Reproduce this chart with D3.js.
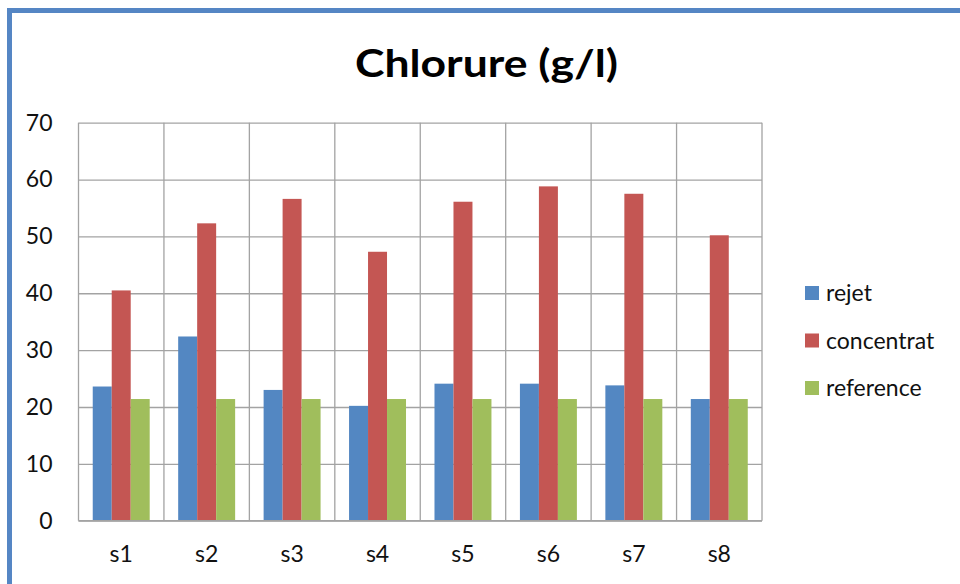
<!DOCTYPE html>
<html>
<head>
<meta charset="utf-8">
<script src="https://cdn.jsdelivr.net/npm/d3@7"></script>
<style>
  html, body { margin: 0; padding: 0; background: #fff; }
  svg { display: block; }
  text { font-family: Lato, "Open Sans", sans-serif; }
</style>
</head>
<body>
<svg id="chart" width="960" height="584"></svg>
<script>
// Chloride measurements (g/l) per sample
const categories = ["s1", "s2", "s3", "s4", "s5", "s6", "s7", "s8"];
const seriesNames = ["rejet", "concentrat", "reference"];
const rejet      = [23.6, 32.4, 23.0, 20.2, 24.1, 24.1, 23.8, 21.4];
const concentrat = [40.5, 52.3, 56.6, 47.3, 56.1, 58.8, 57.5, 50.2];
const reference  = [21.4, 21.4, 21.4, 21.4, 21.4, 21.4, 21.4, 21.4];
const yTicks = [0, 10, 20, 30, 40, 50, 60, 70];
const colors = ["#5387c2", "#c45653", "#a0be5c"];

const seriesValues = [rejet, concentrat, reference];
const rows = categories.map((c, i) => ({
  cat: c,
  values: seriesNames.map((s, k) => ({ key: s, value: seriesValues[k][i], color: colors[k] }))
}));

const svg = d3.select("#chart");

// outer frame
svg.append("rect")
  .attr("x", 9.5).attr("y", 10.5)
  .attr("width", 1000).attr("height", 1000)
  .attr("fill", "none")
  .attr("stroke", "#5586c4")
  .attr("stroke-width", 5);

const plot = { left: 78.5, right: 762, top: 122.7, bottom: 520.7 };

const x = d3.scaleBand().domain(categories).range([plot.left, plot.right]).paddingInner(0).paddingOuter(0);
const groupPad = x.bandwidth() / 6;
const xs = d3.scaleBand().domain(seriesNames)
  .range([groupPad, x.bandwidth() - groupPad]).padding(0);
const y = d3.scaleLinear().domain([0, 70]).range([plot.bottom, plot.top]);

const gridColor = "#a3a3a3";

// horizontal gridlines
svg.append("g")
  .attr("transform", `translate(${plot.left},0)`)
  .call(d3.axisLeft(y).tickValues(yTicks).tickSize(-(plot.right - plot.left)).tickFormat(""))
  .call(g => g.select(".domain").remove())
  .call(g => g.selectAll("line").attr("stroke", gridColor).attr("stroke-width", 1.3));

// vertical category separators
svg.append("g")
  .selectAll("line")
  .data(categories.slice(1).concat(["__end"]))
  .join("line")
  .attr("x1", d => d === "__end" ? plot.right : x(d))
  .attr("x2", d => d === "__end" ? plot.right : x(d))
  .attr("y1", plot.top).attr("y2", plot.bottom)
  .attr("stroke", gridColor).attr("stroke-width", 1.3);

// left edge
svg.append("line")
  .attr("x1", plot.left).attr("x2", plot.left)
  .attr("y1", plot.top).attr("y2", plot.bottom)
  .attr("stroke", gridColor).attr("stroke-width", 1.3);

// bars
const groups = svg.append("g").selectAll("g")
  .data(rows).join("g")
  .attr("transform", d => `translate(${x(d.cat)},0)`);

groups.selectAll("rect")
  .data(d => d.values).join("rect")
  .attr("x", d => xs(d.key))
  .attr("width", xs.bandwidth())
  .attr("y", d => y(d.value))
  .attr("height", d => y(0) - y(d.value))
  .attr("fill", d => d.color);

// baseline
svg.append("line")
  .attr("x1", plot.left).attr("x2", plot.right)
  .attr("y1", plot.bottom).attr("y2", plot.bottom)
  .attr("stroke", gridColor).attr("stroke-width", 1.5);

// y axis labels
const yAxis = svg.append("g")
  .attr("transform", `translate(${plot.left},0)`)
  .call(d3.axisLeft(y).tickValues(yTicks).tickSize(0).tickPadding(26))
  .call(g => g.select(".domain").remove());
yAxis.selectAll("text")
  .attr("font-size", 23).attr("fill", "#111")
  .attr("font-family", "Lato, sans-serif");

// x axis labels
const xAxis = svg.append("g")
  .attr("transform", `translate(0,${plot.bottom})`)
  .call(d3.axisBottom(x).tickSize(0).tickPadding(25))
  .call(g => g.select(".domain").remove());
xAxis.selectAll("text")
  .attr("font-size", 23).attr("fill", "#111")
  .attr("font-family", "Lato, sans-serif");

// title
svg.append("text")
  .attr("x", 486.5).attr("y", 77)
  .attr("text-anchor", "middle")
  .attr("font-size", 38).attr("font-weight", "bold")
  .attr("fill", "#000")
  .attr("textLength", 263).attr("lengthAdjust", "spacingAndGlyphs")
  .text("Chlorure (g/l)");

// legend
const legend = svg.append("g").selectAll("g")
  .data(seriesNames).join("g")
  .attr("transform", (d, i) => `translate(805,${293 + i * 47.5})`);
legend.append("rect")
  .attr("x", 0).attr("y", -7)
  .attr("width", 14).attr("height", 14)
  .attr("fill", (d, i) => colors[i]);
legend.append("text")
  .attr("x", 21).attr("y", 0)
  .attr("dy", "0.35em")
  .attr("font-size", 23).attr("fill", "#111")
  .text(d => d);
</script>
</body>
</html>
